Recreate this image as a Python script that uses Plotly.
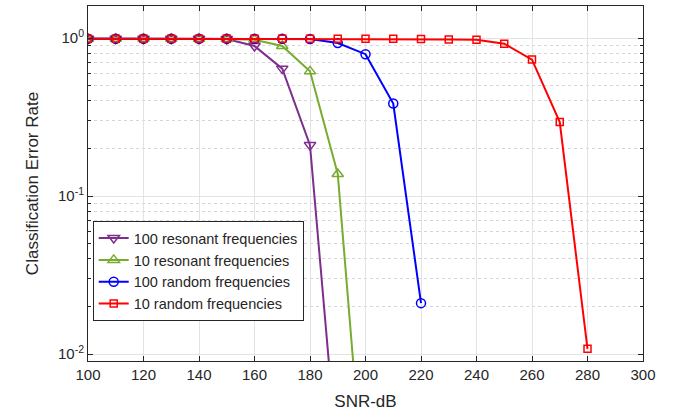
import plotly.graph_objects as go

snr = [100, 110, 120, 130, 140, 150, 160, 170, 180, 190, 200, 210, 220, 230, 240, 250, 260, 270, 280]

res100 = [0.99, 0.99, 0.99, 0.99, 0.99, 0.985, 0.89, 0.64, 0.21, 0.002]
res10 = [0.99, 0.99, 0.99, 0.99, 0.99, 0.985, 0.975, 0.89, 0.615, 0.138, 0.001]
rand100 = [0.99, 0.99, 0.99, 0.99, 0.99, 0.99, 0.99, 0.99, 0.985, 0.93, 0.79, 0.385, 0.021]
rand10 = [0.99, 0.99, 0.99, 0.99, 0.99, 0.99, 0.99, 0.99, 0.99, 0.99, 0.99, 0.99, 0.985, 0.98, 0.975, 0.92, 0.73, 0.294, 0.0108]

names = ["100 resonant frequencies", "10 resonant frequencies",
         "100 random frequencies", "10 random frequencies"]
colors = ["#7E2F8E", "#77AC30", "#0000FF", "#FF0000"]
symbols = ["triangle-down-open", "triangle-up-open", "circle-open", "square-open"]
sizes = [10, 10, 9, 7]
series = [res100, res10, rand100, rand10]

fig = go.Figure()
for name, col, sym, sz, vals in zip(names, colors, symbols, sizes, series):
    fig.add_trace(go.Scatter(
        x=snr[:len(vals)], y=vals, mode="lines+markers", name=name,
        line=dict(color=col, width=2),
        marker=dict(symbol=sym, size=sz, color=col, line=dict(color=col, width=1.5)),
    ))

minor_vals = [m * 10 ** e for e in (-3, -2, -1, 0) for m in range(2, 10)]

font = "Liberation Sans, Arial, Helvetica, sans-serif"
fig.update_layout(
    width=675, height=411,
    margin=dict(l=88, r=32, t=6, b=50),
    paper_bgcolor="white", plot_bgcolor="white",
    font=dict(family=font, size=15, color="#262626"),
    showlegend=True,
    legend=dict(x=0.0085, y=0.394, xanchor="left", yanchor="top",
                bgcolor="white", bordercolor="#262626", borderwidth=1,
                font=dict(size=14.5, color="#262626"),
                tracegroupgap=0, itemwidth=30),
    xaxis=dict(
        range=[100, 300], tickmode="linear", tick0=100, dtick=20,
        automargin=False,
        showgrid=True, gridcolor="#e3e3e3", gridwidth=1, zeroline=False,
        showline=True, linecolor="#262626", linewidth=1, mirror="ticks",
        ticks="inside", ticklen=5, tickcolor="#262626",
        title=dict(text="SNR-dB", font=dict(size=17)),
    ),
    yaxis=dict(
        type="log", range=[-2.044, 0.2025],
        automargin=False,
        tickmode="array", tickvals=[0.01, 0.1, 1],
        ticktext=["10<sup>-2</sup>", "10<sup>-1</sup>", "10<sup>0</sup>"],
        showgrid=True, gridcolor="#e3e3e3", gridwidth=1, zeroline=False,
        showline=True, linecolor="#262626", linewidth=1, mirror="ticks",
        ticks="inside", ticklen=5, tickcolor="#262626",
        minor=dict(tickmode="array", tickvals=minor_vals, ticks="inside", ticklen=3,
                   tickcolor="#262626", showgrid=True, gridcolor="#d6d6d6", griddash="dot"),
        title=dict(text="Classification Error Rate", font=dict(size=17)),
    ),
)

fig.write_html("out.html", config={"displayModeBar": False},
               post_script="document.body.style.margin='0';")
